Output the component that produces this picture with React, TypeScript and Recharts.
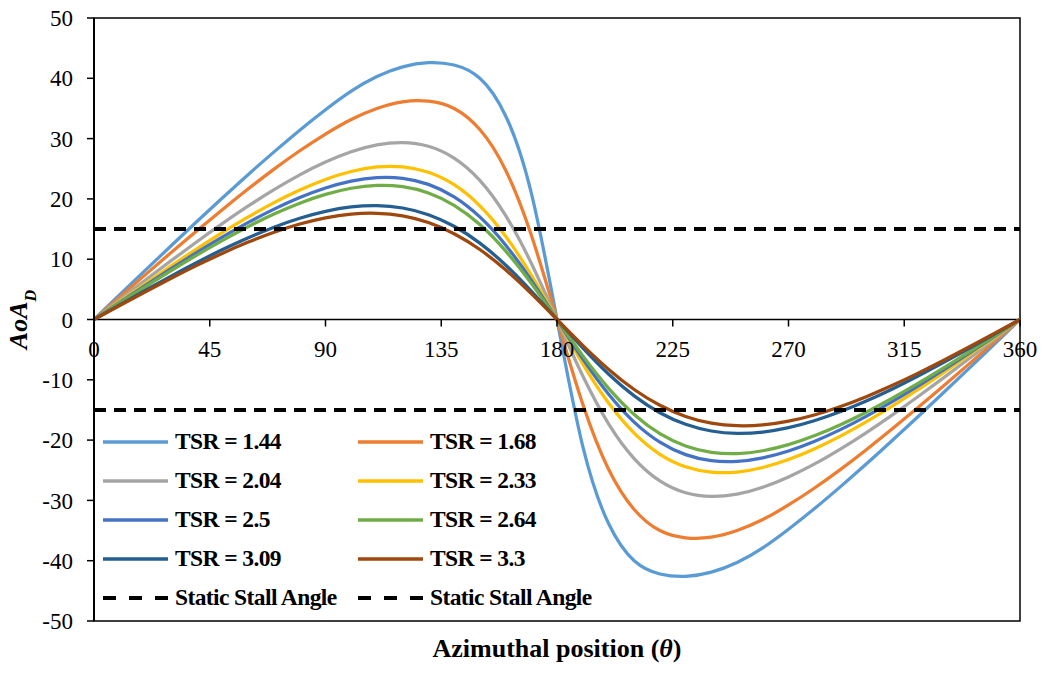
import { LineChart, Line, XAxis, YAxis, ReferenceLine, ReferenceArea, Legend } from 'recharts'

const FONT = '"Liberation Serif", "Times New Roman", serif'

// azimuth (deg)
const THETA = [
  0, 10, 20, 30, 40, 50, 60, 70, 80, 90, 100, 110, 120, 130, 140, 150, 160, 170, 180,
  190, 200, 210, 220, 230, 240, 250, 260, 270, 280, 290, 300, 310, 320, 330, 340, 350, 360,
]

// AoA_D (deg)
const TSR_144 = [
  0, 4.1, 8.18, 12.23, 16.25, 20.19, 24.06, 27.8, 31.4, 34.78, 37.87, 40.3, 41.9, 42.6, 42.2, 40.0, 33.8, 21.0, 0,
  -21.0, -33.8, -40.0, -42.2, -42.6, -41.9, -40.3, -37.87, -34.78, -31.4, -27.8, -24.06, -20.19, -16.25, -12.23, -8.18, -4.1, 0,
]
const TSR_168 = [
  0, 3.73, 7.44, 11.11, 14.72, 18.25, 21.67, 24.93, 27.98, 30.76, 33.18, 35.0, 36.1, 36.2, 35.0, 31.5, 24.8, 14.02, 0,
  -14.02, -24.8, -31.5, -35.0, -36.2, -36.1, -35.0, -33.18, -30.76, -27.98, -24.93, -21.67, -18.25, -14.72, -11.11, -7.44, -3.73, 0,
]
const TSR_204 = [
  0, 3.29, 6.55, 9.76, 12.9, 15.94, 18.83, 21.53, 23.99, 26.11, 27.82, 28.96, 29.35, 28.74, 26.77, 23.07, 17.27, 9.34, 0,
  -9.34, -17.27, -23.07, -26.77, -28.74, -29.35, -28.96, -27.82, -26.11, -23.99, -21.53, -18.83, -15.94, -12.9, -9.76, -6.55, -3.29, 0,
]
const TSR_233 = [
  0, 3.0, 5.97, 8.89, 11.73, 14.45, 17.01, 19.38, 21.47, 23.23, 24.54, 25.3, 25.32, 24.42, 22.35, 18.85, 13.82, 7.35, 0,
  -7.35, -13.82, -18.85, -22.35, -24.42, -25.32, -25.3, -24.54, -23.23, -21.47, -19.38, -17.01, -14.45, -11.73, -8.89, -5.97, -3.0, 0,
]
const TSR_250 = [
  0, 2.85, 5.68, 8.45, 11.13, 13.7, 16.1, 18.3, 20.22, 21.8, 22.94, 23.53, 23.41, 22.41, 20.34, 17.01, 12.36, 6.54, 0,
  -6.54, -12.36, -17.01, -20.34, -22.41, -23.41, -23.53, -22.94, -21.8, -20.22, -18.3, -16.1, -13.7, -11.13, -8.45, -5.68, -2.85, 0,
]
const TSR_264 = [
  0, 2.74, 5.46, 8.12, 10.69, 13.13, 15.42, 17.49, 19.29, 20.75, 21.77, 22.24, 22.03, 20.98, 18.93, 15.74, 11.37, 5.99, 0,
  -5.99, -11.37, -15.74, -18.93, -20.98, -22.03, -22.24, -21.77, -20.75, -19.29, -17.49, -15.42, -13.13, -10.69, -8.12, -5.46, -2.74, 0,
]
const TSR_309 = [
  0, 2.44, 4.85, 7.2, 9.46, 11.6, 13.56, 15.31, 16.79, 17.93, 18.66, 18.88, 18.49, 17.38, 15.46, 12.67, 9.04, 4.71, 0,
  -4.71, -9.04, -12.67, -15.46, -17.38, -18.49, -18.88, -18.66, -17.93, -16.79, -15.31, -13.56, -11.6, -9.46, -7.2, -4.85, -2.44, 0,
]
const TSR_330 = [
  0, 2.32, 4.61, 6.84, 8.98, 11.0, 12.84, 14.47, 15.83, 16.86, 17.49, 17.62, 17.19, 16.08, 14.23, 11.61, 8.24, 4.29, 0,
  -4.29, -8.24, -11.61, -14.23, -16.08, -17.19, -17.62, -17.49, -16.86, -15.83, -14.47, -12.84, -11.0, -8.98, -6.84, -4.61, -2.32, 0,
]
const STALL = 15

const X_TICKS = [0, 45, 90, 135, 180, 225, 270, 315, 360]
const Y_TICKS = [-50, -40, -30, -20, -10, 0, 10, 20, 30, 40, 50]

const SERIES = [
  { key: 't144', name: 'TSR = 1.44', color: '#5B9BD5', values: TSR_144 },
  { key: 't168', name: 'TSR = 1.68', color: '#ED7D31', values: TSR_168 },
  { key: 't204', name: 'TSR = 2.04', color: '#A5A5A5', values: TSR_204 },
  { key: 't233', name: 'TSR = 2.33', color: '#FFC000', values: TSR_233 },
  { key: 't250', name: 'TSR = 2.5', color: '#4472C4', values: TSR_250 },
  { key: 't264', name: 'TSR = 2.64', color: '#70AD47', values: TSR_264 },
  { key: 't309', name: 'TSR = 3.09', color: '#255E91', values: TSR_309 },
  { key: 't330', name: 'TSR = 3.3', color: '#9E480E', values: TSR_330 },
]

const rows = THETA.map((theta, i) => {
  const row: Record<string, number> = { theta, stallHi: STALL, stallLo: -STALL }
  SERIES.forEach((s) => { row[s.key] = s.values[i] })
  return row
})

const W = 1049
const H = 675
const MARGIN = { top: 18, right: 29, bottom: 0, left: 0 }
const X_AXIS_H = 54
const ZERO_Y = MARGIN.top + (H - MARGIN.top - X_AXIS_H) / 2

const LEGEND_ITEMS = [
  ...SERIES.map((s) => ({ name: s.name, color: s.color, dash: undefined as string | undefined })),
  { name: 'Static Stall Angle', color: '#000', dash: '13 13' },
  { name: 'Static Stall Angle', color: '#000', dash: '13 13' },
]

function LegendBox() {
  return (
    <div style={{ display: 'grid', gridTemplateColumns: '255px 255px', fontFamily: FONT, fontWeight: 'bold', fontSize: 23.5, color: '#000' }}>
      {LEGEND_ITEMS.map((it, i) => (
        <div key={i} style={{ display: 'flex', alignItems: 'center', height: 39, whiteSpace: 'nowrap' }}>
          <svg width={72} height={10} style={{ flex: 'none' }}>
            <line x1={0} x2={65} y1={5} y2={5} stroke={it.color} strokeWidth={it.dash ? 4 : 3.5} strokeDasharray={it.dash} />
          </svg>
          <span style={{ letterSpacing: -0.6 }}>{it.name}</span>
        </div>
      ))}
    </div>
  )
}

function XTick(props: any) {
  const { x, payload } = props
  return (
    <g>
      <line x1={x} x2={x} y1={ZERO_Y} y2={ZERO_Y + 7} stroke="#000" strokeWidth={1.5} />
      <text x={x} y={ZERO_Y + 21} dy="0.71em" textAnchor="middle" fontFamily={FONT} fontSize={23} fill="#000">
        {payload.value}
      </text>
    </g>
  )
}

function YTitle(props: any) {
  const vb = props.viewBox || { x: 0, y: MARGIN.top, width: 94, height: H - MARGIN.top - X_AXIS_H }
  const cx = vb.x + 27
  const cy = vb.y + vb.height / 2
  return (
    <text x={cx} y={cy} transform={`rotate(-90 ${cx} ${cy})`} textAnchor="middle" fontFamily={FONT} fontSize={26} fontWeight="bold" fontStyle="italic" fill="#000">
      AoA<tspan dy={9} fontSize={16}>D</tspan>
    </text>
  )
}

function XTitle(props: any) {
  const vb = props.viewBox || { x: 94, y: H - X_AXIS_H, width: W - 94 - MARGIN.right, height: X_AXIS_H }
  return (
    <text x={vb.x + vb.width / 2} y={vb.y + 36} textAnchor="middle" fontFamily={FONT} fontSize={26} fontWeight="bold" fill="#000">
      Azimuthal position (<tspan fontStyle="italic">θ</tspan>)
    </text>
  )
}

export default function App() {
  return (
    <div style={{ position: 'absolute', left: 0, top: 0, width: W, height: H, background: '#fff' }}>
      <LineChart width={W} height={H} data={rows} margin={MARGIN}>
        <ReferenceArea x1={0} x2={360} y1={-50} y2={50} fill="none" stroke="#000" strokeWidth={1.5} ifOverflow="visible" />
        <XAxis
          dataKey="theta"
          type="number"
          domain={[0, 360]}
          ticks={X_TICKS}
          interval={0}
          height={X_AXIS_H}
          axisLine={false}
          tickLine={false}
          tick={(p: any) => <XTick {...p} />}
          label={{ content: (p: any) => <XTitle {...p} /> }}
        />
        <YAxis
          type="number"
          domain={[-50, 50]}
          ticks={Y_TICKS}
          interval={0}
          width={94}
          axisLine={{ stroke: '#000', strokeWidth: 2 }}
          tickLine={{ stroke: '#000', strokeWidth: 1.5 }}
          tickSize={7}
          tickMargin={14}
          tick={{ fill: '#000', fontSize: 23, fontFamily: FONT }}
          label={{ content: (p: any) => <YTitle {...p} /> }}
        />
        <ReferenceLine y={0} stroke="#000" strokeWidth={1.5} />
        {SERIES.map((s) => (
          <Line key={s.key} type="natural" dataKey={s.key} name={s.name} stroke={s.color} strokeWidth={3.25} dot={false} isAnimationActive={false} />
        ))}
        <Line type="linear" dataKey="stallHi" name="Static Stall Angle" stroke="#000" strokeWidth={4} strokeDasharray="12 8" dot={false} isAnimationActive={false} />
        <Line type="linear" dataKey="stallLo" name="Static Stall Angle" stroke="#000" strokeWidth={4} strokeDasharray="12 8" dot={false} isAnimationActive={false} />
        <Legend
          layout="vertical"
          align="center"
          verticalAlign="middle"
          content={() => <LegendBox />}
          wrapperStyle={{ position: 'absolute', left: 103, top: 422, width: 520, margin: 0 }}
        />
      </LineChart>
    </div>
  )
}
